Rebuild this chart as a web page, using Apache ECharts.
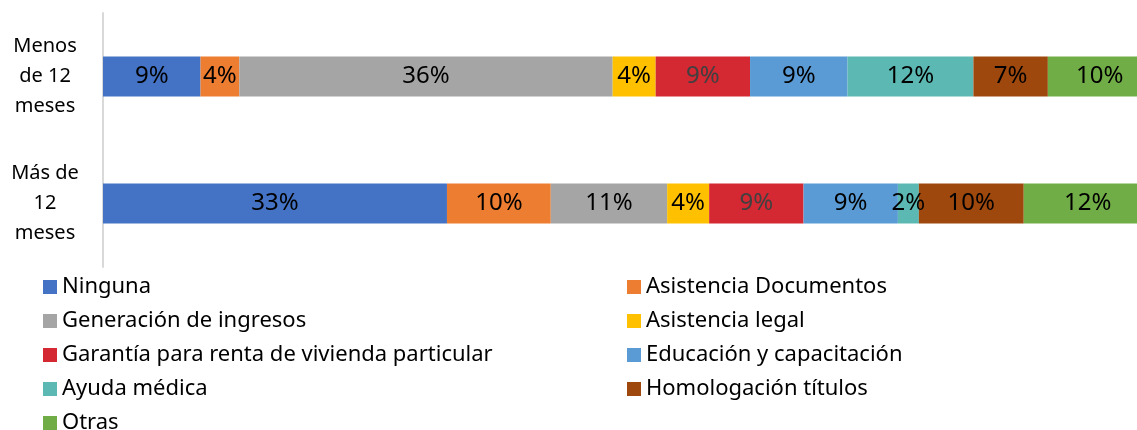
<!DOCTYPE html>
<html>
<head>
<meta charset="utf-8">
<script src="https://cdn.jsdelivr.net/npm/echarts@6/dist/echarts.min.js"></script>
<style>
  body { margin: 0; padding: 0; background: #fff; }
  #chart { width: 1137px; height: 430px; }
</style>
</head>
<body>
<div id="chart"></div>
<script>
// categories (top to bottom)
const categories = ["Menos\nde 12\nmeses", "Más de\n12\nmeses"];

// series names, in stacking order
const seriesNames = [
  "Ninguna",
  "Asistencia Documentos",
  "Generación de ingresos",
  "Asistencia legal",
  "Garantía para renta de vivienda particular",
  "Educación y capacitación",
  "Ayuda médica",
  "Homologación títulos",
  "Otras"
];

// share (%) per category
const menos12 = [9.3, 3.7, 35.6, 4.1, 9.0, 9.3, 12.0, 7.1, 9.9];
const mas12 = [32.8, 9.9, 11.1, 4.0, 9.0, 9.0, 2.0, 10.0, 12.2];

const colors = ["#4472C4", "#ED7D31", "#A5A5A5", "#FFC000", "#D42833",
                "#5B9BD5", "#5BB8B2", "#9E480E", "#70AD47"];

let chart = echarts.init(document.getElementById("chart"));

let series = seriesNames.map((name, i) => ({
  name: name,
  type: "bar",
  stack: "total",
  barWidth: 40,
  clip: false,
  data: [menos12[i], mas12[i]],
  itemStyle: { color: colors[i] },
  label: {
    show: true,
    position: "inside",
    fontFamily: "Noto Sans",
    fontSize: 24,
    color: i === 4 ? "#404040" : "#000",
    formatter: (p) => Math.round(p.value) + "%"
  }
}));

let option = {
  animation: false,
  color: colors,
  grid: { left: 103, right: 0, top: 13, bottom: 163 },
  legend: {
    left: 38,
    top: 270,
    width: 1170,
    itemWidth: 14,
    itemHeight: 14,
    itemGap: 10,
    icon: "rect",
    textStyle: {
      fontFamily: "Noto Sans",
      fontSize: 22,
      color: "#000",
      width: 555,
      lineHeight: 24
    },
    data: seriesNames
  },
  xAxis: {
    type: "value",
    min: 0,
    // the picture is cropped: the 100% end lies just past the right edge
    max: 98.6,
    show: false
  },
  yAxis: {
    type: "category",
    inverse: true,
    data: categories,
    axisLine: { show: true, lineStyle: { color: "#D9D9D9", width: 2 } },
    axisTick: { show: false },
    axisLabel: {
      margin: 58,
      align: "center",
      fontFamily: "Noto Sans",
      fontSize: 20,
      lineHeight: 30,
      color: "#000"
    }
  },
  series: series
};

chart.setOption(option);
</script>
</body>
</html>
